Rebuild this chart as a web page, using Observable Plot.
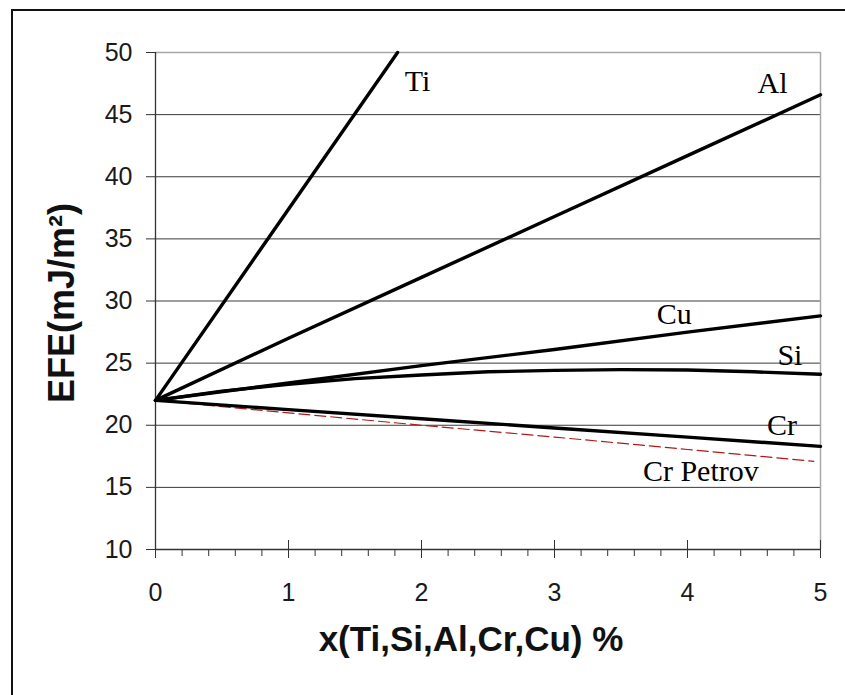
<!DOCTYPE html>
<html>
<head>
<meta charset="utf-8">
<script src="https://cdn.jsdelivr.net/npm/d3@7"></script>
<script src="https://cdn.jsdelivr.net/npm/@observablehq/plot@0.6"></script>
<style>
  html, body { margin: 0; padding: 0; background: #fff; }
  #wrap { position: relative; width: 845px; height: 695px; overflow: hidden; }
  #frame { position: absolute; left: 11px; top: 9px; width: 900px; height: 900px; border: 2px solid #111; box-sizing: border-box; pointer-events: none; }
  #wrap svg { position: absolute; left: 0; top: 0; }
</style>
</head>
<body>
<div id="wrap"><div id="frame"></div></div>
<script>
// ---- data ----
const tiX = [0, 1.82];
const tiY = [22, 50];
const alX = [0, 1, 2, 3, 4, 5];
const alY = [22, 27.0, 31.9, 36.8, 41.7, 46.6];
const cuX = [0, 1, 2, 3, 4, 5];
const cuY = [22, 23.4, 24.8, 26.1, 27.5, 28.8];
const siX = [0, 0.5, 1, 1.5, 2, 2.5, 3, 3.5, 4, 4.5, 5];
const siY = [22, 22.75, 23.3, 23.75, 24.05, 24.3, 24.42, 24.48, 24.45, 24.3, 24.1];
const crX = [0, 1, 2, 3, 4, 5];
const crY = [22, 21.26, 20.52, 19.78, 19.04, 18.3];
const petrovX = [0, 1, 2, 3, 4, 4.95];
const petrovY = [22, 21.0, 20.0, 19.05, 18.05, 17.1];

const labelText = ["Ti", "Al", "Cu", "Si", "Cr", "Cr Petrov"];
const labelX = [1.97, 4.64, 3.90, 4.77, 4.71, 4.10];
const labelY = [47.7, 47.5, 28.9, 25.6, 20.0, 16.3];

const xMajor = [0, 1, 2, 3, 4, 5];
const xMinor = d3.range(0, 26).map(i => i / 5).filter(v => Math.abs(v - Math.round(v)) > 1e-9);
const yTicks = [10, 15, 20, 25, 30, 35, 40, 45, 50];
const yGrid = [15, 20, 25, 30, 35, 40, 45];

const xTitle = "x(Ti,Si,Al,Cr,Cu) %";
const yTitle = "EFE(mJ/m²)";

// ---- build tables ----
const toRows = (xs, ys, name) => xs.map((x, i) => ({x, y: ys[i], name}));
const solid = [
  ...toRows(tiX, tiY, "Ti"),
  ...toRows(alX, alY, "Al"),
  ...toRows(cuX, cuY, "Cu"),
  ...toRows(siX, siY, "Si"),
  ...toRows(crX, crY, "Cr")
];
const petrov = toRows(petrovX, petrovY, "Cr Petrov");
const labels = labelText.map((t, i) => ({t, x: labelX[i], y: labelY[i]}));

const sans = "'Liberation Sans', Arial, sans-serif";
const serif = "'Liberation Serif', 'Times New Roman', serif";
const intFmt = d3.format("d");

const chart = Plot.plot({
  width: 845,
  height: 695,
  marginLeft: 155,
  marginRight: 25,
  marginTop: 52,
  marginBottom: 146,
  style: {fontFamily: sans, fontSize: "25px", background: "transparent", overflow: "visible"},
  x: {domain: [0, 5]},
  y: {domain: [10, 50]},
  marks: [
    Plot.gridY(yGrid, {stroke: "#3a3a3a", strokeOpacity: 1, strokeWidth: 1}),
    Plot.ruleY([50], {stroke: "#a8a8a8", strokeWidth: 1.5}),
    Plot.ruleX([5], {y1: 10, y2: 50, stroke: "#a8a8a8", strokeWidth: 1.5}),
    Plot.axisY(yTicks, {tickSize: 9, tickPadding: 14, fontSize: 25, tickFormat: intFmt, color: "#1a1a1a", stroke: "#333", label: null}),
    Plot.axisX(xMinor, {tickSize: 7, tickFormat: () => "", stroke: "#333", label: null}),
    Plot.axisX(xMajor, {tickSize: 18, dy: -9, tickFormat: () => "", stroke: "#333", label: null}),
    Plot.axisX(xMajor, {tickSize: 0, tickPadding: 34, fontSize: 25, tickFormat: intFmt, color: "#1a1a1a", label: null}),
    Plot.ruleX([0], {y1: 10, y2: 50, stroke: "#333", strokeWidth: 1.3}),
    Plot.ruleY([10], {stroke: "#333", strokeWidth: 1.3}),
    Plot.line(petrov, {x: "x", y: "y", stroke: "#b01818", strokeWidth: 1.2, strokeDasharray: "11,5"}),
    Plot.line(solid, {x: "x", y: "y", z: "name", stroke: "#000", strokeWidth: 3.4}),
    Plot.text(labels, {x: "x", y: "y", text: "t", fontFamily: serif, fontSize: 30, fill: "#000"})
  ]
});

const wrap = document.getElementById("wrap");
wrap.insertBefore(chart, wrap.firstChild);

// axis titles as text in the svg
const svg = d3.select(chart);
svg.append("text")
  .attr("x", 471).attr("y", 642)
  .attr("text-anchor", "middle").attr("dominant-baseline", "middle")
  .attr("font-family", sans).attr("font-weight", "bold").attr("font-size", 35)
  .attr("fill", "#111")
  .text(xTitle);
svg.append("text")
  .attr("transform", "translate(64,303) rotate(-90)")
  .attr("text-anchor", "middle").attr("dominant-baseline", "middle")
  .attr("font-family", sans).attr("font-weight", "bold").attr("font-size", 36)
  .attr("fill", "#111")
  .text(yTitle);
</script>
</body>
</html>
